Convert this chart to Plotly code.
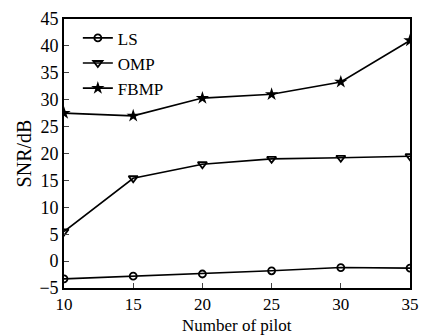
import plotly.graph_objects as go

pilots = [10, 15, 20, 25, 30, 35]
ls_snr = [-3.3, -2.8, -2.4, -1.8, -1.2, -1.3]
omp_snr = [5.5, 15.4, 18.0, 19.0, 19.2, 19.5]
fbmp_snr = [27.5, 27.0, 30.3, 31.0, 33.3, 41.0]
y_ticks = [-5, 0, 5, 10, 15, 20, 25, 30, 35, 40, 45]
y_tick_text = ["\u22125", "0", "5", "10", "15", "20", "25", "30", "35", "40", "45"]

font = "Liberation Serif, Times New Roman, serif"
fig = go.Figure()
fig.add_trace(go.Scatter(x=pilots, y=ls_snr, name="LS", mode="lines+markers",
                         line=dict(color="black", width=1.6),
                         marker=dict(symbol="circle-open", size=7, color="black", line=dict(width=1.8))))
fig.add_trace(go.Scatter(x=pilots, y=omp_snr, name="OMP", mode="lines+markers",
                         line=dict(color="black", width=1.6),
                         marker=dict(symbol="triangle-down-open", size=8, color="black", line=dict(width=1.8))))
fig.add_trace(go.Scatter(x=pilots, y=fbmp_snr, name="FBMP", mode="lines+markers",
                         line=dict(color="black", width=1.6),
                         marker=dict(symbol="star", size=10, color="black")))

fig.update_layout(
    width=421, height=336,
    margin=dict(l=64, r=11, t=19, b=48, autoexpand=False),
    paper_bgcolor="white", plot_bgcolor="white",
    font=dict(family=font, size=18, color="black"),
    showlegend=True,
    legend=dict(x=0.04, y=0.995, xanchor="left", yanchor="top",
                bgcolor="rgba(0,0,0,0)", font=dict(size=17), tracegroupgap=0,
                itemwidth=30),
    annotations=[dict(text="Number of pilot", xref="paper", yref="paper",
                      x=0.5, y=-0.138, xanchor="center", yanchor="middle",
                      showarrow=False, font=dict(size=17))],
)
fig.update_xaxes(range=[10, 35], tickvals=pilots, ticks="inside", ticklen=5,
                 showline=True, linecolor="black", linewidth=1.6, mirror=True,
                 showgrid=False, zeroline=False, automargin=False,
                 tickfont=dict(size=17))
fig.update_yaxes(range=[-5, 45], tickvals=y_ticks, ticktext=y_tick_text, ticks="inside", ticklen=5,
                 showline=True, linecolor="black", linewidth=1.6, mirror=True,
                 showgrid=False, zeroline=False, automargin=False, ticklabelstandoff=0,
                 title=dict(text="SNR/dB", font=dict(size=20), standoff=2))
fig.write_html("out.html")
